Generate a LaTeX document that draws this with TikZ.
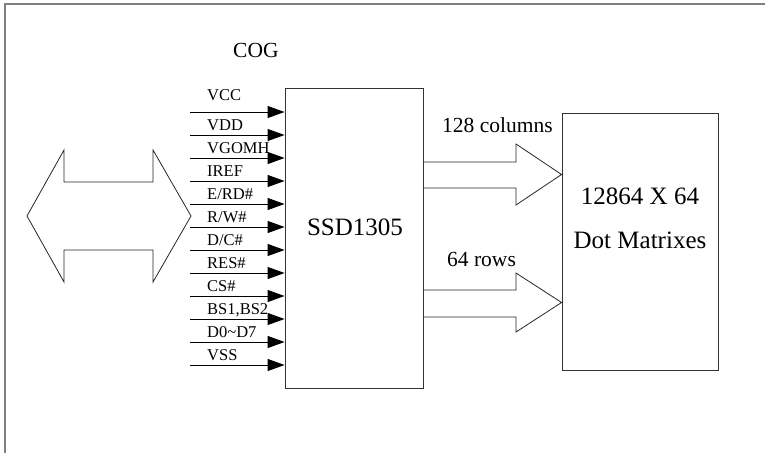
\documentclass[tikz,border=0pt]{standalone}
\usepackage{fontspec}
\setmainfont{Liberation Serif}
\usetikzlibrary{arrows.meta}

\tikzset{
  chipbox/.style={draw=black!80, line width=0.9pt, minimum width=138pt, minimum height=300pt, inner sep=0pt},
  pinline/.style={draw=black, line width=0.9pt, -{Triangle[length=17pt,width=12pt]}},
  pinlabel/.style={anchor=base west, inner sep=0pt, font=\fontsize{16.5}{18}\selectfont},
  biglabel/.style={anchor=base, inner sep=0pt, font=\fontsize{25}{28}\selectfont},
  midlabel/.style={anchor=base west, inner sep=0pt, font=\fontsize{21.5}{24}\selectfont},
  hollow/.style={draw=black!85, line width=0.8pt, line join=miter},
}

\begin{document}
\begin{tikzpicture}[x=1pt,y=-1pt]
\useasboundingbox (0,0) rectangle (765,453);
% frame
\draw[gray, line width=1.3pt] (5,453) -- (5,4) -- (765,4);

% controller and panel
\node[chipbox] (ssd) at (354,238) {};
\node[biglabel] (ssdname) at (355,235) {SSD1305};
\node[chipbox, minimum width=156pt, minimum height=257pt] (dots) at (640,241.5) {};
\node[biglabel] (dotsize) at (640,204) {12864 X 64};
\node[biglabel] (dotname) at (640,248) {Dot Matrixes};
\node[midlabel] (cog) at (233,57) {COG};

% input pins
\foreach \pin [count=\i from 0] in {VDD,VGOMH,IREF,E/RD\#,R/W\#,D/C\#,RES\#,CS\#,{BS1,BS2},D0\char`\~D7,VSS}{
  \coordinate (in\i) at (190,{135+23*\i});
  \draw[pinline] (in\i) -- (in\i -| ssd.west);
  \node[pinlabel] (lab\i) at (207,{130+23*\i}) {\pin};
}
\coordinate (invcc) at (190,112);
\draw[pinline] (invcc) -- (invcc -| ssd.west);
\node[pinlabel] (labvcc) at (207,100) {VCC};

% bus arrow
\draw[hollow] (27,216) -- (64,150) -- (64,182) -- (153,182) -- (153,150) -- (191,216)
  -- (153,282) -- (153,250) -- (64,250) -- (64,282) -- cycle;

% columns and rows
\draw[hollow] (ssd.east |- 0,162) -- (516,162) -- (516,144) -- (dots.west |- 0,174.5)
  -- (516,205) -- (516,188) -- (ssd.east |- 0,188);
\node[midlabel] (cols) at (442,132) {128 columns};
\draw[hollow] (ssd.east |- 0,290) -- (516,290) -- (516,273) -- (dots.west |- 0,302.5)
  -- (516,332) -- (516,317) -- (ssd.east |- 0,317);
\node[midlabel] (rows) at (447,266) {64 rows};
\end{tikzpicture}
\end{document}
